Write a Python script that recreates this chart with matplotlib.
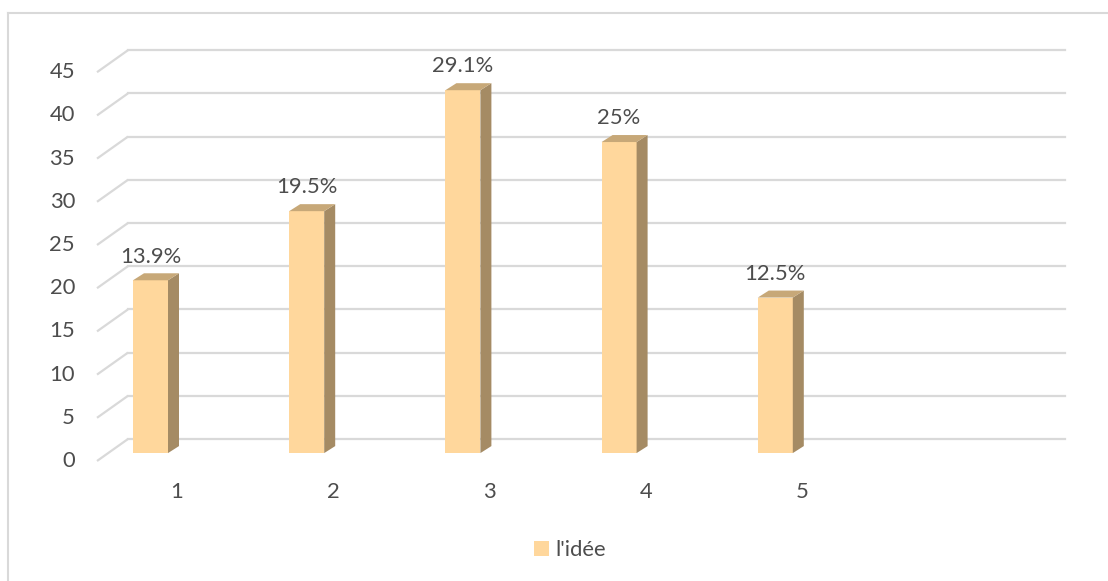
import matplotlib
matplotlib.use("Agg")
import matplotlib.pyplot as plt
from matplotlib.patches import Polygon, Rectangle
import numpy as np

# ---- data ----
categories = ["1", "2", "3", "4", "5"]
values = [20, 28, 42, 36, 18]
labels = ["13.9%", "19.5%", "29.1%", "25%", "12.5%"]
series_name = "l'idée"
yticks = [0, 5, 10, 15, 20, 25, 30, 35, 40, 45]

# ---- style ----
FRONT = "#FFD79C"
SIDE = "#A58B64"
TOP = "#C7A878"
GRID = "#D9D9D9"
TXT = "#4D4D4D"
plt.rcParams['font.family'] = ['Lato', 'DejaVu Sans']
FS = 15.8

W, H = 1108, 581
fig = plt.figure(figsize=(W / 100, H / 100), dpi=100)
ax = fig.add_axes([0, 0, 1, 1])
ax.axis("off")

# mapping: front floor left at px 97 -> x=0, slot = 156.2 px; value 0 at px 461, 8.64 px/unit
X0, SLOT, Y0, PPU = 97.0, 156.2, 461.0, 8.64
ax.set_xlim((0 - X0) / SLOT, (W - X0) / SLOT)
ax.set_ylim((Y0 - H) / PPU, Y0 / PPU)

nslots = 6
ddx = 31 / SLOT      # full depth offset (x)
ddy = 22 / PPU       # full depth offset (y)

# gridlines: diagonal on left side wall + back wall line
for t in yticks:
    ax.plot([0, ddx], [t, t + ddy], color=GRID, lw=1.6, solid_capstyle="butt", zorder=1)
    ax.plot([ddx, nslots + ddx], [t + ddy, t + ddy], color=GRID, lw=1.6, zorder=1)
    ax.text(-22 / SLOT, t, str(t), ha="right", va="center", fontsize=FS, color=TXT)

# bars with pseudo-3D faces
f = 0.36                  # depth fraction of bar front face
bw = 35 / SLOT            # bar width
sdx = 11 / SLOT           # bar depth x
sdy = 7 / PPU             # bar depth y
xs = np.arange(len(values)) + 53.5 / SLOT
base = f * ddy
ax.bar(xs, values, width=bw, bottom=base, color=FRONT, edgecolor="none", zorder=3)
for x, v, lab in zip(xs, values, labels):
    l, r = x - bw / 2, x + bw / 2
    top = base + v
    ax.add_patch(Polygon([[r, base], [r + sdx, base + sdy], [r + sdx, top + sdy], [r, top]],
                         closed=True, facecolor=SIDE, edgecolor="none", zorder=3))
    ax.add_patch(Polygon([[l, top], [l + sdx, top + sdy], [r + sdx, top + sdy], [r, top]],
                         closed=True, facecolor=TOP, edgecolor="none", zorder=3))
    ax.text(x, top + 2.75, lab, ha="center", va="center", fontsize=FS, color=TXT, zorder=4)

# category labels
for i, c in enumerate(categories):
    ax.text(i + 0.5 + 2 / SLOT, (Y0 - 492) / PPU, c, ha="center", va="center", fontsize=FS, color=TXT)

# chart border (top and left visible)
ax.plot([(8 - X0) / SLOT, (W - X0) / SLOT], [(Y0 - 13) / PPU] * 2, color="#D9D9D9", lw=1.5, zorder=0)
ax.plot([(8 - X0) / SLOT] * 2, [(Y0 - 13) / PPU, (Y0 - H) / PPU], color="#D9D9D9", lw=1.5, zorder=0)

# legend
handle = Rectangle((0, 0), 1, 1, facecolor=FRONT, edgecolor="none")
fig.legend([handle], [series_name], loc="center", bbox_to_anchor=(570 / W, 1 - 550 / H),
           frameon=False, fontsize=FS, labelcolor=TXT, handlelength=0.7, handleheight=0.7,
           handletextpad=0.3)

fig.savefig("out.png", dpi=100)
